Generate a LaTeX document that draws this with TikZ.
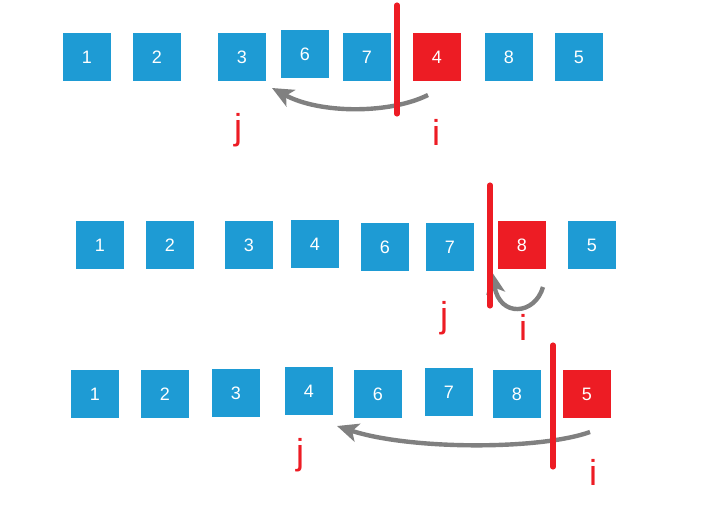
\documentclass[tikz,border=0pt]{standalone}
\usepackage{fontspec}
\setmainfont{Liberation Sans}
\definecolor{cellblue}{RGB}{30,155,212}
\definecolor{markred}{RGB}{237,28,36}
\definecolor{arrgray}{RGB}{128,128,128}
\usetikzlibrary{arrows.meta}
\tikzset{
  cell/.style={fill=cellblue,text=white,minimum size=36pt,inner sep=0pt,font=\fontsize{13.5}{13.5}\selectfont},
  hot/.style={cell,fill=markred},
  ptr/.style={text=markred,font=\fontsize{27}{27}\selectfont},
  bar/.style={markred,line width=3.8pt,line cap=round},
  move/.style={arrgray,line width=3.3pt,-{Stealth[length=16pt,width=14pt,inset=4pt]}}
}
\begin{document}
\begin{tikzpicture}[x=0.75pt,y=-0.75pt]
  \useasboundingbox (0,0) rectangle (711,523);
  % first pass
  \node[cell] (a1) at (87,57) {1};
  \node[cell] (a2) at (157,57) {2};
  \node[cell] (a3) at (242,57) {3};
  \node[cell] (a6) at (305,54) {6};
  \node[cell] (a7) at (367,57) {7};
  \node[hot]  (a4) at (437,57) {4};
  \node[cell] (a8) at (509,57) {8};
  \node[cell] (a5) at (579,57) {5};
  \node[ptr] (aj) at (238,130) {j};
  \node[ptr] (ai) at (436,132) {i};
  \coordinate (as) at (428,95);
  \coordinate (ae) at (272,88);
  \draw[move] (as) .. controls (390,114) and (320,114) .. (ae);
  \coordinate (at) at (397,5);
  \coordinate (ab) at (397,114);
  \draw[bar] (at) -- (ab);
  % second pass
  \node[cell] (b1) at (100,245) {1};
  \node[cell] (b2) at (170,245) {2};
  \node[cell] (b3) at (249,245) {3};
  \node[cell] (b4) at (315,244) {4};
  \node[cell] (b6) at (385,247) {6};
  \node[cell] (b7) at (450,247) {7};
  \node[hot]  (b8) at (522,245) {8};
  \node[cell] (b5) at (592,245) {5};
  \node[ptr] (bj) at (444,318) {j};
  \node[ptr] (bi) at (523,327) {i};
  \coordinate (bs) at (543,287);
  \coordinate (be) at (492,272);
  \draw[move] (bs) .. controls (535,315) and (500,318) .. (be);
  \coordinate (bt) at (490,185);
  \coordinate (bb) at (490,306);
  \draw[bar] (bt) -- (bb);
  % third pass
  \node[cell] (c1) at (95,394) {1};
  \node[cell] (c2) at (165,394) {2};
  \node[cell] (c3) at (236,393) {3};
  \node[cell] (c4) at (309,391) {4};
  \node[cell] (c6) at (378,394) {6};
  \node[cell] (c7) at (449,392) {7};
  \node[cell] (c8) at (517,394) {8};
  \node[hot]  (c5) at (587,394) {5};
  \node[ptr] (cj) at (300,455) {j};
  \node[ptr] (ci) at (593,472) {i};
  \coordinate (cs) at (590,432);
  \coordinate (ce) at (337,426);
  \draw[move] (cs) .. controls (540,450) and (410,450) .. (ce);
  \coordinate (ct) at (553,345);
  \coordinate (cb) at (553,467);
  \draw[bar] (ct) -- (cb);
\end{tikzpicture}
\end{document}
